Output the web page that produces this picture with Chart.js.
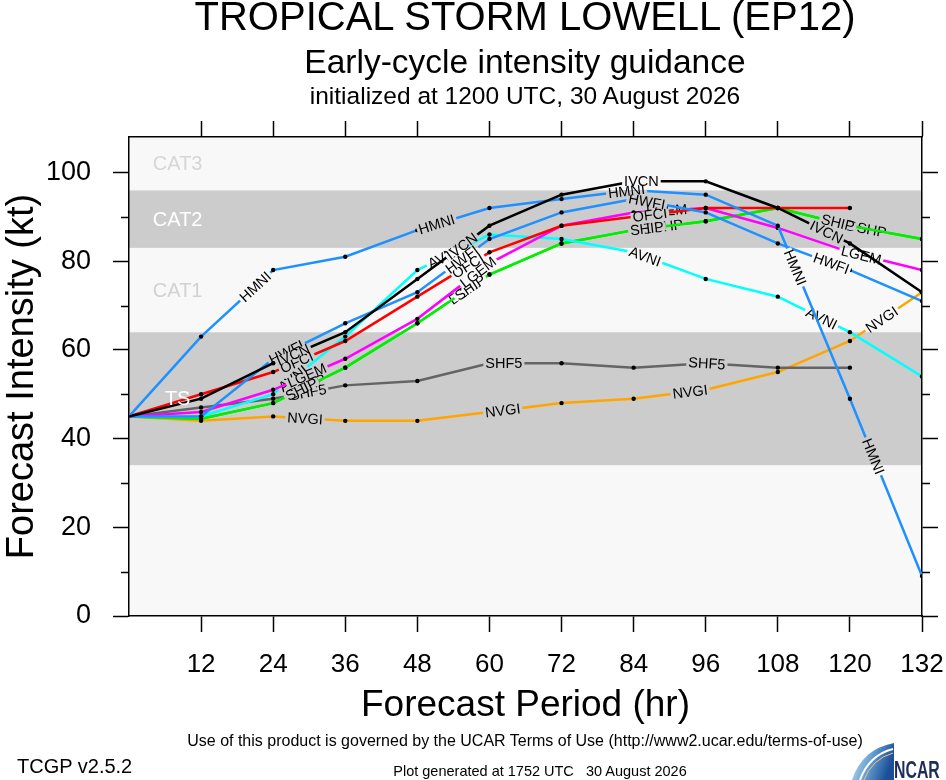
<!DOCTYPE html>
<html>
<head>
<meta charset="utf-8">
<script src="https://cdn.jsdelivr.net/npm/chart.js@4.4.1/dist/chart.umd.min.js"></script>
<style>
  html, body { margin: 0; padding: 0; background: #fff; }
  #wrap { position: relative; width: 946px; height: 780px; overflow: hidden; font-family: "Liberation Sans", Arial, sans-serif; }
  #wrap canvas { position: absolute; left: 0; top: 0; }
  .txt { position: absolute; white-space: nowrap; line-height: 1; color: #000; }
  .ctr { left: 0; width: 1050px; text-align: center; }
</style>
</head>
<body>
<div id="wrap">
  <canvas id="chart" width="946" height="780" style="width:946px;height:780px"></canvas>
  <div class="txt ctr" style="top:-4px;font-size:40px">TROPICAL STORM LOWELL (EP12)</div>
  <div class="txt ctr" style="top:45px;font-size:33.5px">Early-cycle intensity guidance</div>
  <div class="txt ctr" style="top:84px;font-size:24.5px">initialized at 1200 UTC, 30 August 2026</div>
  <div class="txt ctr" style="top:733px;font-size:16px">Use of this product is governed by the UCAR Terms of Use (http://www2.ucar.edu/terms-of-use)</div>
  <div class="txt" style="left:17px;top:756px;font-size:20px">TCGP v2.5.2</div>
  <div class="txt" style="left:0;width:1080px;text-align:center;top:764px;font-size:14.5px">Plot generated at 1752 UTC&nbsp;&nbsp;&nbsp;30 August 2026</div>
  <svg style="position:absolute;left:852px;top:743px" width="42" height="37" viewBox="0 0 42 37">
    <defs>
      <linearGradient id="sw" x1="0" y1="0" x2="1" y2="0.3">
        <stop offset="0" stop-color="#d6e8f5"/>
        <stop offset="0.5" stop-color="#6aa3d6"/>
        <stop offset="1" stop-color="#1b4f97"/>
      </linearGradient>
    </defs>
    <path d="M0,37 Q10,6 42,0 L42,37 Z" fill="url(#sw)"/>
    <path d="M8,37 Q17,12 41,6" fill="none" stroke="#ffffff" stroke-width="2"/>
    <path d="M12,37 Q20,16 41,10" fill="none" stroke="#f2c27a" stroke-width="1"/>
  </svg>
  <div class="txt" style="left:894px;top:758px;font-size:24px;font-weight:bold;color:#1c2d5c;transform:scaleX(0.66);transform-origin:0 0">NCAR</div>
</div>
<script>
// forecast hours
const hours = [0, 12, 24, 36, 48, 60, 72, 84, 96, 108, 120, 132];

// intensity guidance (kt)
const ivcn = [45, 49, 57, 64, 76, 88, 95, 98, 98, 92, 84, 73];
const hmni = [45, 63, 78, 81, 87, 92, 94, 96, 95, 88, 49, 9];
const hwfi = [45, 45, 58, 66, 73, 85, 91, 94, 91, 84, 78, 71];
const ofci = [45, 50, 55, 62, 72, 82, 88, 90, 92, 92, 92, null];
const lgem = [45, 46, 51, 58, 67, 79.5, 88, 91, 92, 87.5, 82, 78];
const avni = [45, 45, 50, 63, 78, 86, 85, 82, 76, 72, 64, 54];
const ship = [45, 44.5, 48, 56, 66, 77, 84, 87, 89, 92, 88, 85];
const dshp = [45, 44.5, 48, 56, 66, 77, 84, 87, 89, 92, 88, 85];
const shf5 = [45, 47, 49, 52, 53, 57, 57, 56, 57, 56, 56, null];
const nvgi = [45, 44, 45, 44, 44, 46, 48, 49, 51, 55, 62, 73];

const models = ['IVCN', 'HMNI', 'HWFI', 'OFCI', 'LGEM', 'AVNI', 'SHIP', 'DSHP', 'SHF5', 'NVGI'];
const modelValues = [ivcn, hmni, hwfi, ofci, lgem, avni, ship, dshp, shf5, nvgi];

// Saffir-Simpson bands (kt)
const bandEdges = [0, 34, 64, 83, 96, 108];
const bandNames = ['', 'TS', 'CAT1', 'CAT2', 'CAT3'];
const minorTicks = [10, 30, 50, 70, 90];

// styles
const modelColors = ['#000000', '#1e90ff', '#1e90ff', '#ff0000', '#ff00ff', '#00ffff', '#00ee00', '#00ee00', '#646464', '#ffa500'];
// where along each line (hr) the model name is written
const labelHours = [
  [27.3, 55.4, 85.3, 116.1],
  [21, 51.2, 82.8, 110.9, 123.9],
  [26.2, 55.4, 86.2, 116.9],
  [27.9, 56.4, 86.7],
  [29.6, 58.1, 89.5, 121.9],
  [27.3, 52.3, 85.9, 115.3],
  [28.7, 56.8, 86.2, 118],
  [29.6, 56.2, 88.9, 122.8],
  [29.8, 62.4, 96.2],
  [29.3, 62.2, 93.4, 125.3]
];
const bandFill = ['#f8f8f8', '#cccccc', '#f8f8f8', '#cccccc', '#f8f8f8'];
const bandTextColor = ['', '#ffffff', '#d2d2d2', '#ffffff', '#d6d6d6'];
const FONT = '"Liberation Sans", Arial, sans-serif';

Chart.defaults.font.family = FONT;
Chart.defaults.color = '#000';

function paintBands(chart) {
  const { ctx, chartArea: a, scales: { y } } = chart;
  for (let i = 0; i < bandFill.length; i++) {
    const top = y.getPixelForValue(bandEdges[i + 1]);
    const bot = y.getPixelForValue(bandEdges[i]);
    ctx.fillStyle = bandFill[i];
    ctx.fillRect(a.left, top, a.right - a.left, bot - top);
  }
}

function drawTag(chart, ds, h) {
  const { ctx, scales: { x, y } } = chart;
  const vals = ds.values;
  let i = 0;
  while (i < hours.length - 2 && h > hours[i + 1]) i++;
  const x1 = x.getPixelForValue(hours[i]), x2 = x.getPixelForValue(hours[i + 1]);
  const y1 = y.getPixelForValue(vals[i]), y2 = y.getPixelForValue(vals[i + 1]);
  const t = (h - hours[i]) / (hours[i + 1] - hours[i]);
  const px = x1 + (x2 - x1) * t, py = y1 + (y2 - y1) * t;
  const ang = Math.atan2(y2 - y1, x2 - x1);
  ctx.save();
  ctx.font = '14.5px ' + FONT;
  const w = ctx.measureText(ds.label).width + 4;
  const base = ctx.getTransform();
  ctx.translate(px, py);
  ctx.rotate(ang);
  // gap in the line under the name
  ctx.save();
  ctx.beginPath();
  ctx.rect(-w / 2, -4, w, 8);
  ctx.clip();
  ctx.setTransform(base);
  paintBands(chart);
  ctx.restore();
  ctx.fillStyle = '#000';
  ctx.textAlign = 'center';
  ctx.textBaseline = 'middle';
  ctx.fillText(ds.label, 0, 1);
  ctx.restore();
}

const backdrop = {
  id: 'backdrop',
  beforeDraw(chart) {
    chart.ctx.save();
    paintBands(chart);
    chart.ctx.restore();
  },
  afterDatasetDraw(chart, args) {
    const ds = chart.data.datasets[args.index];
    (ds.labelAt || []).forEach(h => drawTag(chart, ds, h));
  },
  afterDatasetsDraw(chart) {
    const { ctx, scales: { x, y } } = chart;
    ctx.save();
    ctx.font = '20px ' + FONT;
    ctx.textAlign = 'center';
    ctx.textBaseline = 'middle';
    for (let i = 1; i < bandNames.length; i++) {
      ctx.fillStyle = bandTextColor[i];
      ctx.fillText(bandNames[i], x.getPixelForValue(8.1), y.getPixelForValue((bandEdges[i] + bandEdges[i + 1]) / 2) + 1);
    }
    ctx.restore();
  },
  afterDraw(chart) {
    const { ctx, chartArea: a, scales: { y } } = chart;
    ctx.save();
    ctx.strokeStyle = '#000';
    ctx.lineWidth = 1.5;
    ctx.beginPath();
    minorTicks.forEach(v => {
      const py = Math.round(y.getPixelForValue(v)) + 0.5;
      ctx.moveTo(a.left - 8, py); ctx.lineTo(a.left, py);
      ctx.moveTo(a.right, py); ctx.lineTo(a.right + 8, py);
    });
    ctx.stroke();
    ctx.restore();
  }
};

const datasets = models.map((name, k) => ({
  label: name,
  values: modelValues[k],
  labelAt: labelHours[k],
  data: hours.map((h, j) => ({ x: h, y: modelValues[k][j] })),
  xAxisID: 'x',
  yAxisID: 'y',
  borderColor: modelColors[k],
  borderWidth: 2.5,
  tension: 0,
  fill: false,
  spanGaps: false,
  pointRadius: c => (c.raw && c.raw.x === 0 ? 0 : 2.2),
  pointBackgroundColor: '#000',
  pointBorderWidth: 0,
  pointHoverRadius: 0
}));

const noZeroTick = c => (c.tick && c.tick.value === 0 ? 'rgba(0,0,0,0)' : '#000');
const fixX = h => s => { s.height = h; s.paddingLeft = 0; s.paddingRight = 0; };
const fixY = w => s => { s.width = w; s.paddingTop = 0; s.paddingBottom = 0; };

new Chart(document.getElementById('chart'), {
  type: 'line',
  data: { datasets },
  options: {
    responsive: false,
    animation: false,
    events: [],
    layout: { padding: 0 },
    plugins: { legend: { display: false }, title: { display: false }, tooltip: { enabled: false } },
    scales: {
      x: {
        type: 'linear', position: 'bottom', min: 0, max: 132,
        ticks: { stepSize: 12, autoSkip: false, maxRotation: 0, padding: 17, font: { size: 26 }, color: '#000',
          callback: v => (v === 0 ? '' : v) },
        grid: { drawOnChartArea: false, drawTicks: true, tickLength: 16, tickWidth: 1.5, tickColor: noZeroTick },
        border: { display: true, color: '#000', width: 1.5 },
        title: { display: true, text: 'Forecast Period (hr)', font: { size: 37 }, color: '#000', padding: { top: 0, bottom: 52 } },
        afterFit: fixX(164)
      },
      x2: {
        type: 'linear', position: 'top', min: 0, max: 132,
        ticks: { stepSize: 12, display: false },
        grid: { drawOnChartArea: false, drawTicks: true, tickLength: 16, tickWidth: 1.5, tickColor: noZeroTick },
        border: { display: true, color: '#000', width: 1.5 },
        afterFit: fixX(137)
      },
      y: {
        type: 'linear', position: 'left', min: 0, max: 108,
        ticks: { stepSize: 20, includeBounds: false, padding: 22, font: { size: 27 }, color: '#000' },
        grid: { drawOnChartArea: false, drawTicks: true, tickLength: 16, tickWidth: 1.5, tickColor: '#000' },
        border: { display: true, color: '#000', width: 1.5 },
        title: { display: true, text: 'Forecast Intensity (kt)', font: { size: 38 }, color: '#000', padding: { top: 0, bottom: 0 } },
        afterFit: fixY(129)
      },
      y2: {
        type: 'linear', position: 'right', min: 0, max: 108,
        ticks: { stepSize: 20, includeBounds: false, display: false },
        grid: { drawOnChartArea: false, drawTicks: true, tickLength: 16, tickWidth: 1.5, tickColor: '#000' },
        border: { display: true, color: '#000', width: 1.5 },
        afterFit: fixY(24)
      }
    }
  },
  plugins: [backdrop]
});
</script>
</body>
</html>
